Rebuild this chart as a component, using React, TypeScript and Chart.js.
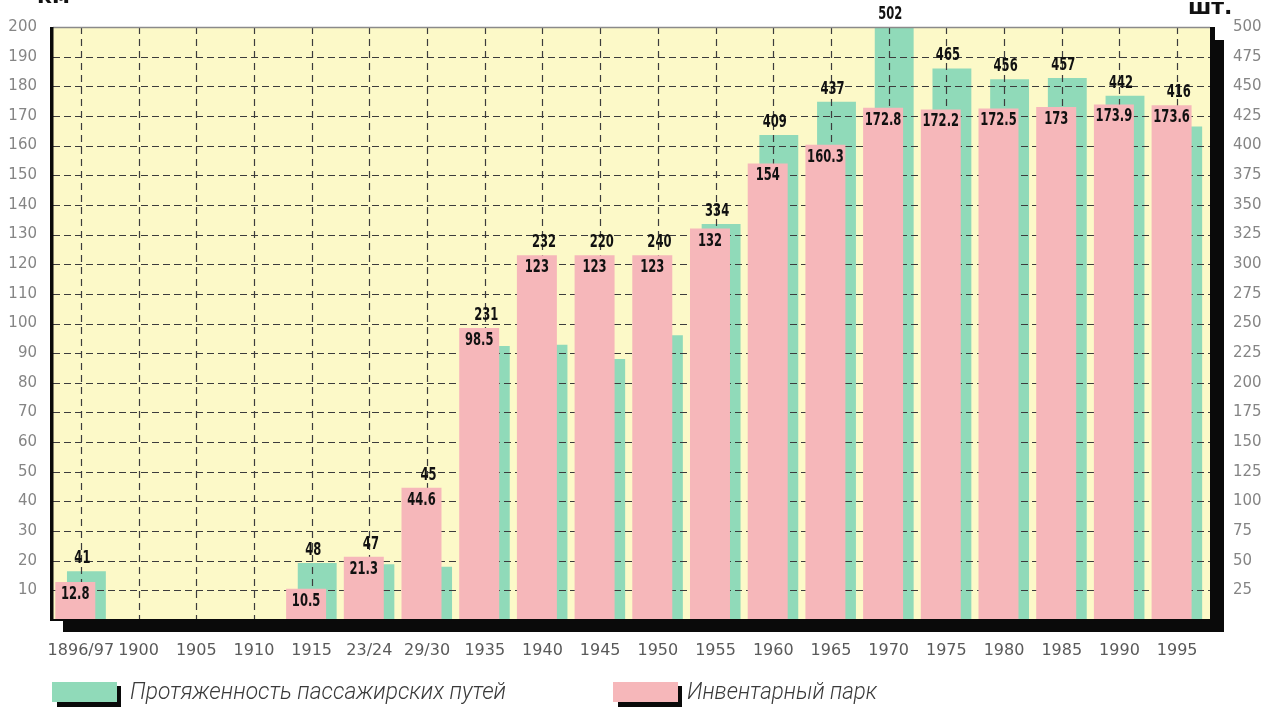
import React, { useEffect, useRef } from 'react';
import { Chart, registerables } from 'chart.js';

Chart.register(...registerables);

const categories = ['1896/97', '1900', '1905', '1910', '1915', '23/24', '29/30', '1935', '1940', '1945', '1950', '1955', '1960', '1965', '1970', '1975', '1980', '1985', '1990', '1995'];
// pink bars, left axis (км)
const parkValues: (number | null)[] = [12.8, null, null, null, 10.5, 21.3, 44.6, 98.5, 123, 123, 123, 132, 154, 160.3, 172.8, 172.2, 172.5, 173, 173.9, 173.6];
// green bars, right axis (шт.)
const trackValues: (number | null)[] = [41, null, null, null, 48, 47, 45, 231, 232, 220, 240, 334, 409, 437, 502, 465, 456, 457, 442, 416];

const leftTickValues = [10, 20, 30, 40, 50, 60, 70, 80, 90, 100, 110, 120, 130, 140, 150, 160, 170, 180, 190, 200];
const rightTickValues = [25, 50, 75, 100, 125, 150, 175, 200, 225, 250, 275, 300, 325, 350, 375, 400, 425, 450, 475, 500];

const legendLabels = ['Протяженность пассажирских путей', 'Инвентарный парк'];
const unitLeft = 'км';
const unitRight = 'шт.';

const PINK = '#f6b7ba';
const GREEN = '#90dab9';
const YELLOW = '#fcf9c8';

function narrowText(ctx: CanvasRenderingContext2D, text: string, x: number, y: number, baseline: CanvasTextBaseline, sx: number) {
  ctx.save();
  ctx.translate(x, y);
  ctx.scale(sx, 1);
  ctx.textAlign = 'center';
  ctx.textBaseline = baseline;
  ctx.fillText(text, 0, 0);
  ctx.restore();
}

const decorPlugin = {
  id: 'decor',
  beforeDraw(chart: any) {
    const ctx = chart.ctx as CanvasRenderingContext2D;
    const { top, bottom } = chart.chartArea;
    ctx.save();
    ctx.fillStyle = '#ffffff';
    ctx.fillRect(0, 0, chart.width, chart.height);
    ctx.fillStyle = YELLOW;
    ctx.fillRect(53, top, 1210 - 53, bottom - top);
    ctx.restore();
  },
  afterDatasetDraw(chart: any, args: any) {
    if (args.index !== 1) return;
    const ctx = chart.ctx as CanvasRenderingContext2D;
    const { top, bottom } = chart.chartArea;
    const ys = chart.scales.y;
    const xs = chart.scales.x;
    ctx.save();
    ctx.strokeStyle = '#3c3c3c';
    ctx.lineWidth = 1.2;
    ctx.setLineDash([7, 4]);
    leftTickValues.forEach((v) => {
      const y = Math.round(ys.getPixelForValue(v)) + 0.5;
      ctx.beginPath();
      ctx.moveTo(53, y);
      ctx.lineTo(1210, y);
      ctx.stroke();
    });
    ctx.setLineDash([7, 5]);
    categories.forEach((_, i) => {
      const x = Math.round(xs.getPixelForValue(i)) + 0.5;
      ctx.beginPath();
      ctx.moveTo(x, top);
      ctx.lineTo(x, bottom);
      ctx.stroke();
    });
    ctx.restore();
  },
  afterDatasetsDraw(chart: any) {
    const ctx = chart.ctx as CanvasRenderingContext2D;
    const { top, bottom } = chart.chartArea;
    ctx.save();
    // frame
    ctx.strokeStyle = '#8a8a8a';
    ctx.lineWidth = 1.5;
    ctx.beginPath();
    ctx.moveTo(53, top + 0.5);
    ctx.lineTo(1210, top + 0.5);
    ctx.stroke();
    ctx.fillStyle = '#0a0a0a';
    ctx.fillRect(50, top, 3.5, bottom - top + 1);
    ctx.fillRect(50, bottom - 1, 1165, 2);
    ctx.fillRect(63, bottom, 1224 - 63, 12);
    ctx.fillRect(1210, top, 5, bottom - top + 12);
    ctx.fillRect(1215, top + 13, 9, bottom - top - 1);

    // value labels
    const pinkMeta = chart.getDatasetMeta(0);
    const greenMeta = chart.getDatasetMeta(1);
    ctx.fillStyle = '#111';
    ctx.font = "bold 17px 'DejaVu Sans'";
    categories.forEach((_, i) => {
      const pv = parkValues[i];
      const gv = trackValues[i];
      let pinkTop = Infinity;
      if (pv !== null) {
        const bar = pinkMeta.data[i];
        pinkTop = bar.y;
        narrowText(ctx, String(pv), bar.x, bar.y + 4, 'top', 0.68);
      }
      if (gv !== null) {
        const bar = greenMeta.data[i];
        const t = Math.max(Math.min(bar.y, pinkTop), top);
        narrowText(ctx, String(gv), bar.x - 4, t - 4, 'bottom', 0.68);
      }
    });
    ctx.restore();
  },
  afterDraw(chart: any) {
    const ctx = chart.ctx as CanvasRenderingContext2D;
    ctx.save();
    // units
    ctx.fillStyle = '#111';
    ctx.font = "bold 22px 'DejaVu Sans'";
    ctx.textAlign = 'left';
    ctx.textBaseline = 'alphabetic';
    ctx.fillText(unitLeft, 37, 3);
    ctx.fillText(unitRight, 1188, 14);

    // legend
    const items = [
      { color: GREEN, x: 52, textX: 130, width: 376, label: legendLabels[0] },
      { color: PINK, x: 613, textX: 687, width: 190, label: legendLabels[1] },
    ];
    items.forEach((it) => {
      ctx.fillStyle = '#0a0a0a';
      ctx.fillRect(it.x + 65, 686, 4, 21);
      ctx.fillRect(it.x + 5, 702, 64, 5);
      ctx.fillStyle = it.color;
      ctx.fillRect(it.x, 682, 65, 20);
      ctx.fillStyle = '#3a3a3a';
      ctx.font = "italic 300 23px Roboto";
      const w = ctx.measureText(it.label).width;
      ctx.save();
      ctx.translate(it.textX, 699);
      ctx.scale(it.width / w, 1);
      ctx.textAlign = 'left';
      ctx.textBaseline = 'alphabetic';
      ctx.fillText(it.label, 0, 0);
      ctx.restore();
    });
    ctx.restore();
  },
};

export default function App() {
  const ref = useRef<HTMLCanvasElement | null>(null);

  useEffect(() => {
    document.body.style.margin = '0';
    const canvas = ref.current;
    if (!canvas) return;
    const chart = new Chart(canvas, {
      type: 'bar',
      data: {
        labels: categories,
        datasets: [
          {
            label: legendLabels[1],
            data: parkValues,
            backgroundColor: PINK,
            borderWidth: 0,
            yAxisID: 'y',
            categoryPercentage: 0.385,
            barPercentage: 3.6,
          },
          {
            label: legendLabels[0],
            data: trackValues,
            backgroundColor: GREEN,
            borderWidth: 0,
            yAxisID: 'y1',
            categoryPercentage: 0.385,
            barPercentage: 3.5,
          },
        ],
      },
      options: {
        responsive: false,
        animation: false,
        layout: { padding: { top: 27, left: 0, right: 0, bottom: 0 } },
        plugins: {
          legend: { display: false },
          tooltip: { enabled: false },
          title: { display: false },
        },
        scales: {
          x: {
            type: 'category',
            grid: { display: false, drawTicks: false },
            border: { display: false },
            ticks: {
              autoSkip: false,
              maxRotation: 0,
              minRotation: 0,
              padding: 21,
              color: '#5a5a5a',
              font: { family: "'DejaVu Sans'", size: 16 },
            },
            afterFit(s: any) {
              s.height = 87;
              s.paddingLeft = 0;
              s.paddingRight = 0;
            },
          },
          y: {
            position: 'left',
            min: 0,
            max: 200,
            grid: { display: false, drawTicks: false },
            border: { display: false },
            ticks: {
              padding: 15,
              color: '#858585',
              font: { family: "'DejaVu Sans'", size: 15 },
            },
            afterBuildTicks(s: any) {
              s.ticks = leftTickValues.map((v) => ({ value: v }));
            },
            afterFit(s: any) {
              s.width = 52;
              s.paddingTop = 0;
              s.paddingBottom = 0;
            },
          },
          y1: {
            position: 'right',
            min: 0,
            max: 500,
            grid: { display: false, drawTicks: false },
            border: { display: false },
            ticks: {
              padding: 27,
              color: '#858585',
              font: { family: "'DejaVu Sans'", size: 15 },
            },
            afterBuildTicks(s: any) {
              s.ticks = rightTickValues.map((v) => ({ value: v }));
            },
            afterFit(s: any) {
              s.width = 59;
              s.paddingTop = 0;
              s.paddingBottom = 0;
            },
          },
        },
      },
      plugins: [decorPlugin],
    } as any);
    return () => chart.destroy();
  }, []);

  return (
    <div style={{ width: 1265, height: 707 }}>
      <canvas ref={ref} width={1265} height={707} style={{ display: 'block', width: 1265, height: 707 }} />
    </div>
  );
}
